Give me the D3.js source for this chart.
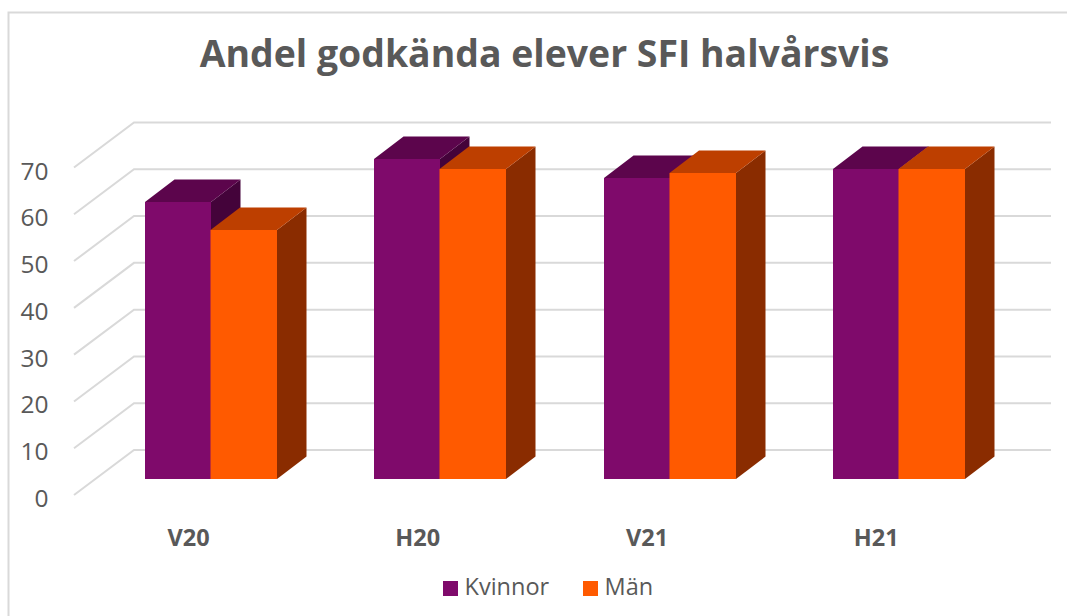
<!DOCTYPE html>
<html><head><meta charset="utf-8">
<script src="https://cdn.jsdelivr.net/npm/d3@7"></script>
<style>html,body{margin:0;padding:0;background:#fff;overflow:hidden}svg{display:block}text{font-family:"Open Sans",sans-serif}</style>
</head><body><svg id="c" width="1067" height="616"></svg>
<script>
const categories = ["V20","H20","V21","H21"];
const seriesNames = ["Kvinnor","Män"];
const kvinnor = [59.2,68.3,64.3,66.3];
const man = [53.3,66.3,65.3,66.3];
const ticks = [0,10,20,30,40,50,60,70];
const titleText = "Andel godkända elever SFI halvårsvis";

const svg = d3.select("#c");
const ink = "#595959", grid = "#d9d9d9";
const face = ["#7f0a6b","#ff5a00"], top_ = ["#5c054c","#bd3f00"], side = ["#44033a","#8a2c00"];

// frame
svg.append("path").attr("d","M8.5,616V12.5H1067").attr("fill","none").attr("stroke",grid).attr("stroke-width",2);

svg.append("text").attr("x",544.5).attr("y",67).attr("text-anchor","middle")
  .attr("font-size",37.4).attr("font-weight",700).attr("fill",ink).text(titleText);

// scales
const wallX = [134,1051], floorDX = -60, floorDY = 45;   // back wall and its offset to the front edge
const y = d3.scaleLinear().domain([0,70]).range([450,122.5]);
const x = d3.scaleBand().domain(categories).range(wallX);
const barBaseOffset = 29;                 // bar front baseline below the wall's zero
const barDX = 29.5, barDY = -22.5;        // bar depth
const barW = 66;
const firstOffset = 11;                   // bar group inset from band start

// grid
const g = svg.append("g").attr("fill","none").attr("stroke",grid).attr("stroke-width",2);
g.selectAll("path").data(ticks).join("path")
 .attr("d",d=>`M${wallX[0]+floorDX},${y(d)+floorDY}L${wallX[0]},${y(d)}H${wallX[1]}`);

// tick labels
svg.append("g").selectAll("text").data(ticks).join("text")
 .attr("x",48.5).attr("y",d=>y(d)+floorDY+12).attr("text-anchor","end")
 .attr("font-size",24.5).attr("fill",ink).text(d=>d);

// bars
const rows = categories.map((c,i)=>({c,vals:[kvinnor[i],man[i]]}));
const gb = svg.append("g");
rows.forEach(r=>{
  r.vals.forEach((v,s)=>{
    const x0 = Math.round(x(r.c)+firstOffset)+s*(barW-0.5), x1 = Math.round(x0+barW);
    const y0 = Math.round(y(v)+barBaseOffset), y1 = Math.round(y(0)+barBaseOffset);
    const b = gb.append("g");
    b.append("path").attr("fill",side[s]).attr("d",`M${x1},${y0}l${barDX},${barDY}V${y1+barDY}L${x1},${y1}Z`);
    b.append("path").attr("fill",top_[s]).attr("d",`M${x0},${y0}l${barDX},${barDY}H${x1+barDX}L${x1},${y0}Z`);
    b.append("rect").attr("fill",face[s]).attr("x",x0).attr("y",y0).attr("width",x1-x0).attr("height",y1-y0);
  });
});

// category labels
svg.append("g").selectAll("text").data(categories).join("text")
 .attr("x",d=>x(d)+firstOffset+43.5).attr("y",545.5).attr("text-anchor","middle")
 .attr("font-size",23.5).attr("font-weight",700).attr("fill",ink).text(d=>d);

// legend
const lx = [443,583], tx = [464.5,604.5];
seriesNames.forEach((n,i)=>{
  svg.append("rect").attr("x",lx[i]).attr("y",581).attr("width",15).attr("height",15).attr("fill",face[i]);
  svg.append("text").attr("x",tx[i]).attr("y",595).attr("font-size",23.5).attr("fill",ink).text(n);
});
</script></body></html>
